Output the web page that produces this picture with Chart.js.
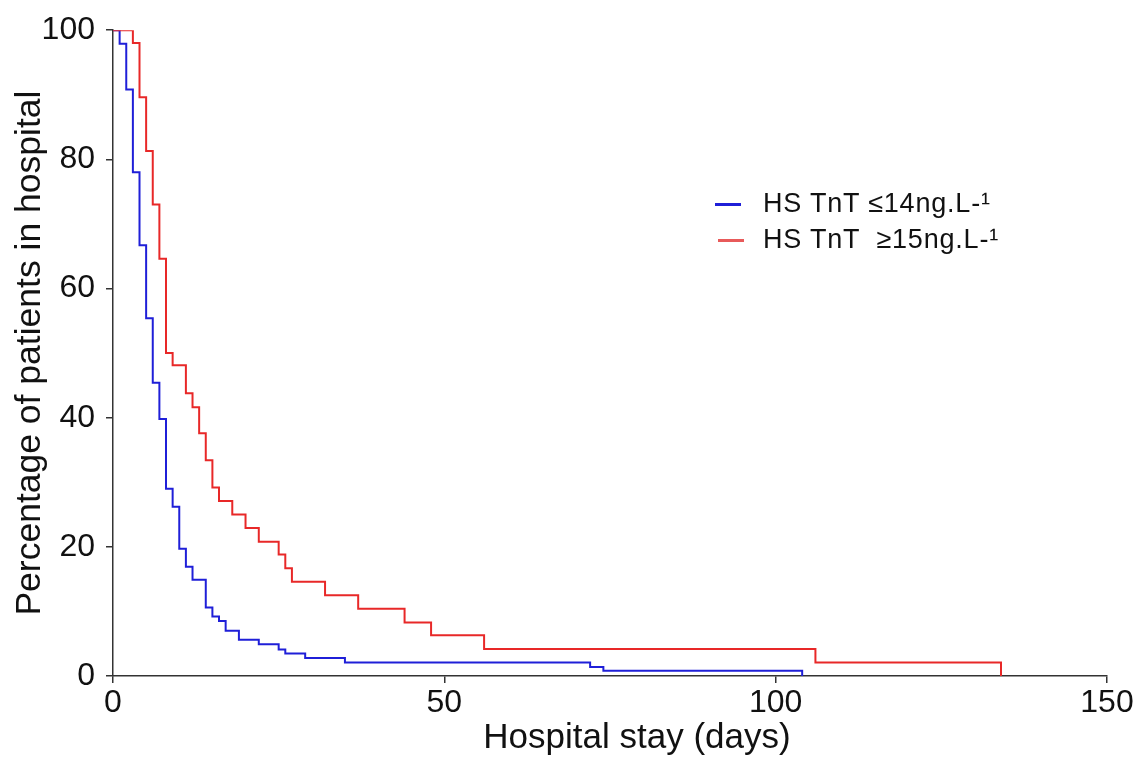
<!DOCTYPE html>
<html>
<head>
<meta charset="utf-8">
<script src="https://cdn.jsdelivr.net/npm/chart.js@4/dist/chart.umd.min.js"></script>
<style>
  body { margin: 0; background: #fff; }
  #wrap { position: relative; width: 1146px; height: 774px; }
  #legend { position: absolute; left: 712px; top: 187px; font-family: "Liberation Sans", Arial, sans-serif; font-size: 27px; letter-spacing: 0.8px; color: #111; }
  .item { position: relative; height: 36px; line-height: 32px; white-space: pre; }
  .swatch { position: absolute; top: 16px; width: 26px; height: 3px; }
  .label { position: absolute; left: 51px; top: 0; }
  #xtitle { position: absolute; left: 437px; width: 400px; top: 716px; line-height: 40px; text-align: center; font-family: "Liberation Sans", Arial, sans-serif; font-size: 35px; color: #111; white-space: nowrap; }
</style>
</head>
<body>
<div id="wrap">
  <canvas id="kmChart"></canvas>
  <div id="legend"></div>
  <div id="xtitle"></div>
</div>
<script>
// Kaplan-Meier style curves (days, % still in hospital)
const lowDays = [0, 1, 2, 3, 4, 5, 6, 7, 8, 9, 10, 11, 12, 14, 15, 16, 17, 19, 22, 25, 26, 29, 35, 72, 74, 104];
const lowPct = [100, 97.9, 90.8, 78.0, 66.7, 55.4, 45.4, 39.8, 29.0, 26.2, 19.7, 16.9, 14.9, 10.6, 9.2, 8.5, 7.0, 5.6, 4.9, 4.1, 3.5, 2.8, 2.1, 1.4, 0.8, 0];

const highDays = [0, 3, 4, 5, 6, 7, 8, 9, 11, 12, 13, 14, 15, 16, 18, 20, 22, 25, 26, 27, 32, 37, 44, 48, 56, 106, 134];
const highPct = [100, 98.0, 89.6, 81.3, 73.0, 64.6, 50.0, 48.1, 43.8, 41.6, 37.6, 33.4, 29.2, 27.1, 25.0, 22.9, 20.8, 18.8, 16.7, 14.6, 12.5, 10.4, 8.3, 6.3, 4.2, 2.1, 0];

const seriesNames = ["HS TnT \u226414ng.L-\u00b9", "HS TnT  \u226515ng.L-\u00b9"];
const seriesColors = ["#1f1fd8", "#e82828"];
const legendColors = ["#1f1fd8", "#e85a5a"];

const xTicks = [0, 50, 100, 150];
const yTicks = [0, 20, 40, 60, 80, 100];

const xTitle = "Hospital stay (days)";
const yTitle = "Percentage of patients in hospital";

const FONT = "'Liberation Sans', Arial, sans-serif";

const toPoints = (xs, ys) => xs.map((x, i) => ({ x: x, y: ys[i] }));

const ctx = document.getElementById("kmChart");

new Chart(ctx, {
  type: "line",
  data: {
    datasets: [
      {
        label: seriesNames[0],
        data: toPoints(lowDays, lowPct),
        borderColor: seriesColors[0],
        borderWidth: 2,
        stepped: true,
        pointRadius: 0,
        fill: false,
        order: 1,
      },
      {
        label: seriesNames[1],
        data: toPoints(highDays, highPct),
        borderColor: seriesColors[1],
        borderWidth: 2,
        stepped: true,
        pointRadius: 0,
        fill: false,
        order: 0,
      },
    ],
  },
  options: {
    responsive: true,
    maintainAspectRatio: false,
    animation: false,
    layout: { padding: { left: 0, right: 39, top: 29, bottom: 0 } },
    plugins: {
      legend: { display: false },
      tooltip: { enabled: false },
    },
    scales: {
      x: {
        type: "linear",
        min: 0,
        max: 150,
        afterBuildTicks: (s) => { s.ticks = xTicks.map((v) => ({ value: v })); },
        afterFit: (s) => { s.height = 98; },
        border: { display: true, color: "#333", width: 1.5 },
        grid: { display: true, drawOnChartArea: false, drawTicks: true, tickLength: 7, color: "#333", lineWidth: 1.5 },
        ticks: { color: "#111", padding: 1, font: { family: FONT, size: 32 } },
        title: { display: false },
      },
      y: {
        min: 0,
        max: 100,
        afterBuildTicks: (s) => { s.ticks = yTicks.map((v) => ({ value: v })); },
        afterFit: (s) => { s.width = 113; },
        border: { display: true, color: "#333", width: 1.5 },
        grid: { display: true, drawOnChartArea: false, drawTicks: true, tickLength: 7, color: "#333", lineWidth: 1.5 },
        ticks: { color: "#111", padding: 11, font: { family: FONT, size: 32 } },
        title: {
          display: true,
          text: yTitle,
          color: "#111",
          font: { family: FONT, size: 35.5 },
          padding: { top: 9, bottom: 0 },
        },
      },
    },
  },
});

// x title sits a bit right of centre in the original, so it is placed as html text
document.getElementById("xtitle").textContent = xTitle;

// legend drawn as html text next to the curves
const legend = document.getElementById("legend");
seriesNames.forEach((name, i) => {
  const item = document.createElement("div");
  item.className = "item";
  const sw = document.createElement("span");
  sw.className = "swatch";
  sw.style.background = legendColors[i];
  sw.style.left = (i === 0 ? 3 : 6) + "px";
  const lb = document.createElement("span");
  lb.className = "label";
  lb.textContent = name;
  item.appendChild(sw);
  item.appendChild(lb);
  legend.appendChild(item);
});
</script>
</body>
</html>
